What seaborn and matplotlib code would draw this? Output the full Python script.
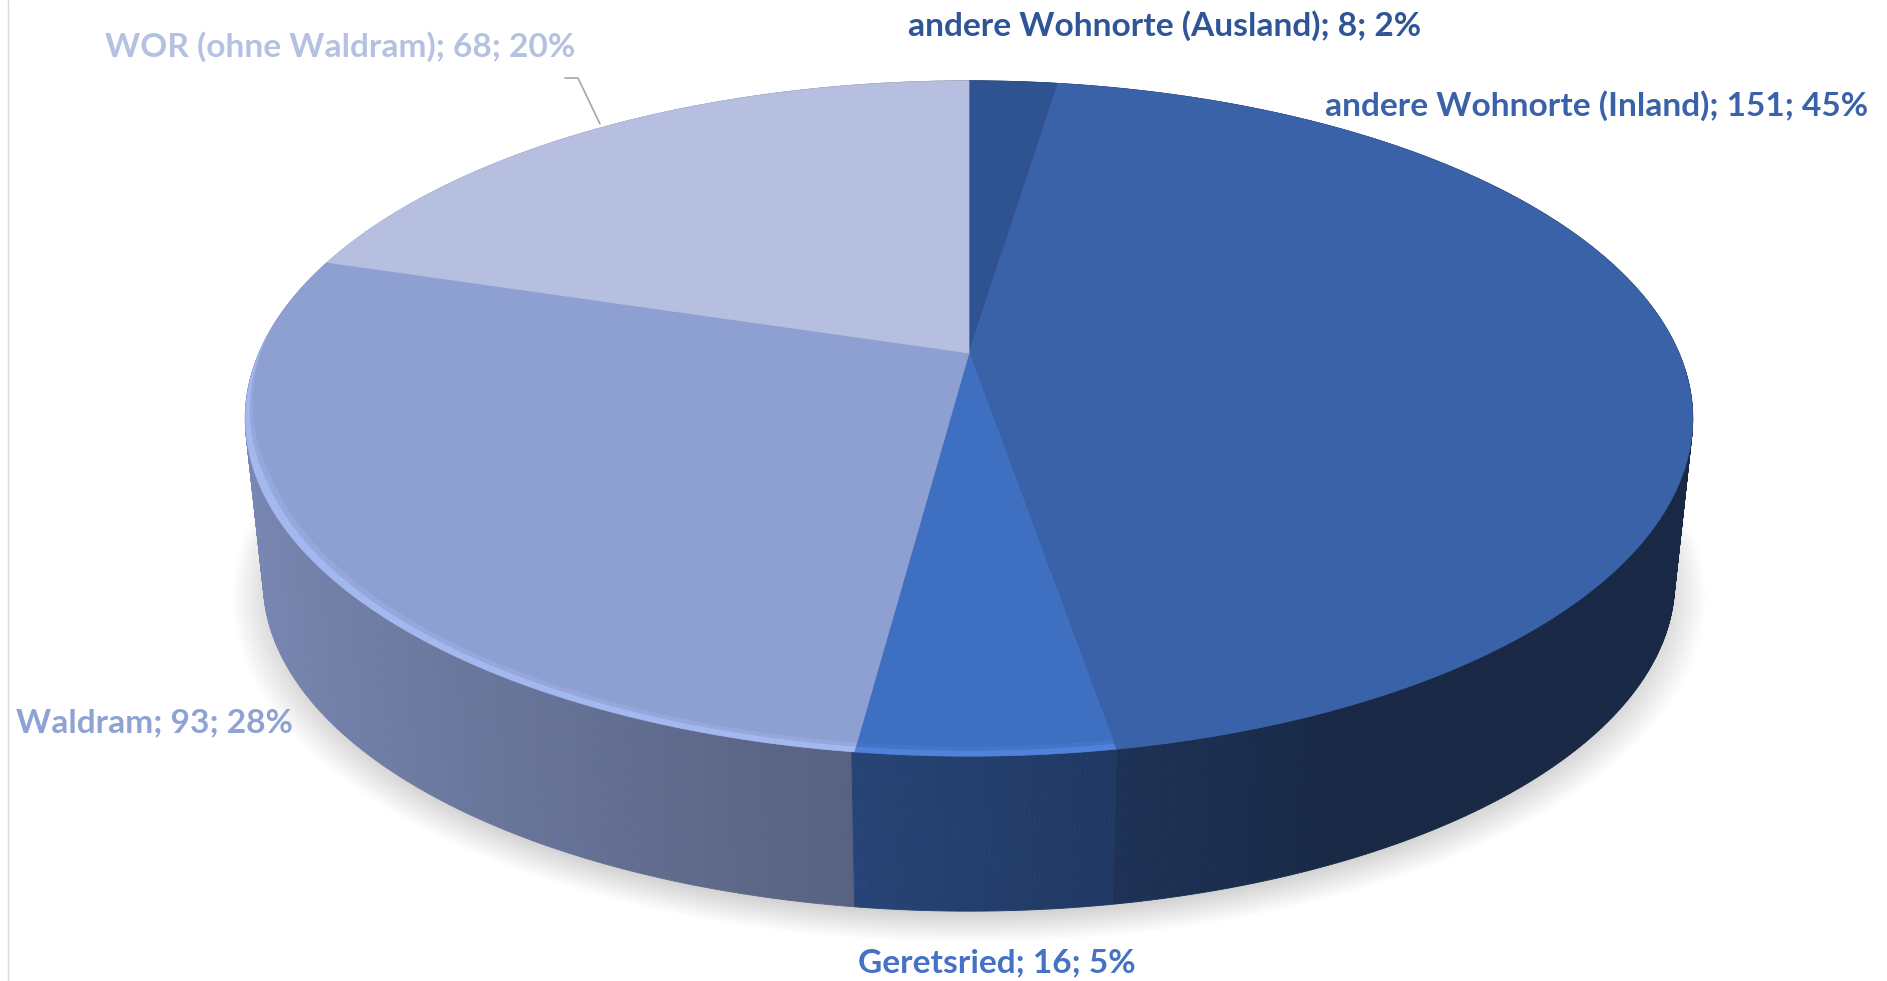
import numpy as np
import pandas as pd
import matplotlib
matplotlib.use('Agg')
import matplotlib.pyplot as plt
import matplotlib.transforms as mtransforms
from matplotlib.collections import PolyCollection
from matplotlib.path import Path
import seaborn as sns

## dados
categorias = ['andere Wohnorte (Ausland)', 'andere Wohnorte (Inland)', 'Geretsried', 'Waldram', 'WOR (ohne Waldram)']
pessoas = [8, 151, 16, 93, 68]
percentuais = [2, 45, 5, 28, 20]

cores_topo = ['#2F5291', '#3A62A9', '#3F6FC1', '#8E9FD2', '#B6BFDF']
cores_rotulo = ['#2F5597', '#3A62A9', '#4472C4', '#8FA2D4', '#B4C1E0']
cores_borda = [None, None, '#5082DA', '#A3B8EE', None]

# posicao dos rotulos em pixels (esquerda, centro vertical)
pos_rotulos = [(908, 26), (1325, 106), (858, 963), (16, 723), (105, 47)]

sns.set_theme(style='white')
plt.rcParams['font.family'] = ['Lato', 'DejaVu Sans']

dados = pd.DataFrame({'categoria': categorias, 'pessoas': pessoas, 'pct': percentuais})
dados['fim'] = dados['pessoas'].cumsum() / dados['pessoas'].sum() * 2 * np.pi
dados['inicio'] = dados['fim'].shift(fill_value=0.0)

## geometria da perspectiva (pixels)
CX, CY, A, B, K = 969, 353, 710, 325, 0.194
CY_BASE, S_BASE = 518, 0.975


def projeta(x, y, escala=1.0, cy=CY):
    den = 1 + K * y
    return CX + escala * A * x / den, cy - escala * B * y / den


class Perspectiva(mtransforms.Transform):
    input_dims = 2
    output_dims = 2
    is_separable = False

    def transform_non_affine(self, values):
        values = np.asarray(values, dtype=float)
        x, y = projeta(values[:, 0], values[:, 1])
        return np.column_stack([x, y])

    def transform_path_non_affine(self, path):
        # o arco do Wedge vira polilinha antes de projetar
        pontos = []
        for curva, codigo in path.iter_bezier():
            if codigo == Path.MOVETO:
                pontos.append(curva.control_points[0])
            else:
                pontos.extend(curva(np.linspace(0, 1, 25))[1:])
        pontos = np.array(pontos)
        return Path(self.transform_non_affine(pontos), closed=True)


def ponto_disco(theta, raio=1.0):
    # theta medido a partir das 12 horas no sentido horario
    return raio * np.sin(theta), raio * np.cos(theta)


fig, ax = plt.subplots(figsize=(18.87, 9.81), dpi=100)
fig.subplots_adjust(0, 0, 1, 1)

## sombra embaixo da pizza
angulos = np.linspace(0, 2 * np.pi, 361)
for raio in np.linspace(1.042, 0.98, 16):
    x, y = ponto_disco(angulos, raio)
    sx, sy = projeta(x, y, S_BASE, CY_BASE + 10)
    ax.fill(sx, sy, color='black', alpha=0.011, lw=0, zorder=1)

## parede lateral, uma faixa por grau, de tras para frente
passos = np.linspace(0, 2 * np.pi, 1081)
quads, cores_quads, profundidade = [], [], []
for t0, t1 in zip(passos[:-1], passos[1:]):
    tm = (t0 + t1) / 2
    linha = dados[(dados['inicio'] <= tm) & (dados['fim'] > tm)].index[0]
    x0, y0 = ponto_disco(t0)
    x1, y1 = ponto_disco(t1)
    tx0, ty0 = projeta(x0, y0)
    tx1, ty1 = projeta(x1, y1)
    bx0, by0 = projeta(x0, y0, S_BASE, CY_BASE)
    bx1, by1 = projeta(x1, y1, S_BASE, CY_BASE)
    quads.append([(tx0, ty0), (tx1, ty1), (bx1, by1), (bx0, by0)])
    fator = np.interp(np.sin(tm), [-1, -0.15, 0.2, 0.45, 1], [0.86, 0.62, 0.5, 0.41, 0.41])
    cores_quads.append(tuple(c * fator for c in matplotlib.colors.to_rgb(cores_topo[linha])))
    profundidade.append(np.cos(tm))
ordem = np.argsort(profundidade)[::-1]
ax.add_collection(PolyCollection(
    [quads[i] for i in ordem],
    facecolors=[cores_quads[i] for i in ordem],
    edgecolors=[cores_quads[i] for i in ordem],
    linewidths=0.6,
    zorder=2,
))

## topo da pizza
wedges, _ = ax.pie(
    pessoas,
    colors=cores_topo,
    startangle=90,
    counterclock=False,
    radius=1,
    wedgeprops={'linewidth': 0.5, 'zorder': 3},
)
perspectiva = Perspectiva()
for wedge, cor in zip(wedges, cores_topo):
    wedge.set_edgecolor(cor)
    wedge.set_transform(perspectiva + ax.transData)


def faixa_borda(t, raio_fora, raio_dentro, cor, alpha):
    # raio_dentro pode variar ao longo de t para afinar a faixa
    x_f, y_f = ponto_disco(t, raio_fora)
    x_d, y_d = ponto_disco(t[::-1], raio_dentro[::-1])
    xe, ye = projeta(x_f, y_f)
    xi, yi = projeta(x_d, y_d)
    ax.fill(np.r_[xe, xi], np.r_[ye, yi], color=cor, alpha=alpha, lw=0, zorder=4)


## borda clara na frente do topo, afinando no lado esquerdo
for linha, cor in zip(dados.itertuples(), cores_borda):
    if cor is None:
        continue
    t = np.linspace(linha.inicio, min(linha.fim, 1.52 * np.pi), 160)
    afina = np.clip((1.52 * np.pi - t) / 0.45, 0, 1)
    faixa_borda(t, 1.0, 1 - 0.019 * afina, cor, 0.35)
    faixa_borda(t, 1.0, 1 - 0.011 * afina, cor, 1)

## rotulos
for linha, cor, (px, py) in zip(dados.itertuples(), cores_rotulo, pos_rotulos):
    ax.text(
        px, py, f'{linha.categoria}; {linha.pessoas}; {linha.pct}%',
        color=cor, fontsize=24.1, fontweight='bold', ha='left', va='center', zorder=5,
    )

# linha de chamada do WOR e margem esquerda da imagem
ax.plot([565, 578, 600], [78, 78, 124], color='#A6A6A6', lw=1.2, zorder=5)
ax.axvline(8, color='#D9D9D9', lw=1, zorder=0)

ax.set_aspect('auto')
ax.set_xlim(0, 1887)
ax.set_ylim(981, 0)
ax.axis('off')

fig.savefig('out.png', dpi=100, facecolor='white')
